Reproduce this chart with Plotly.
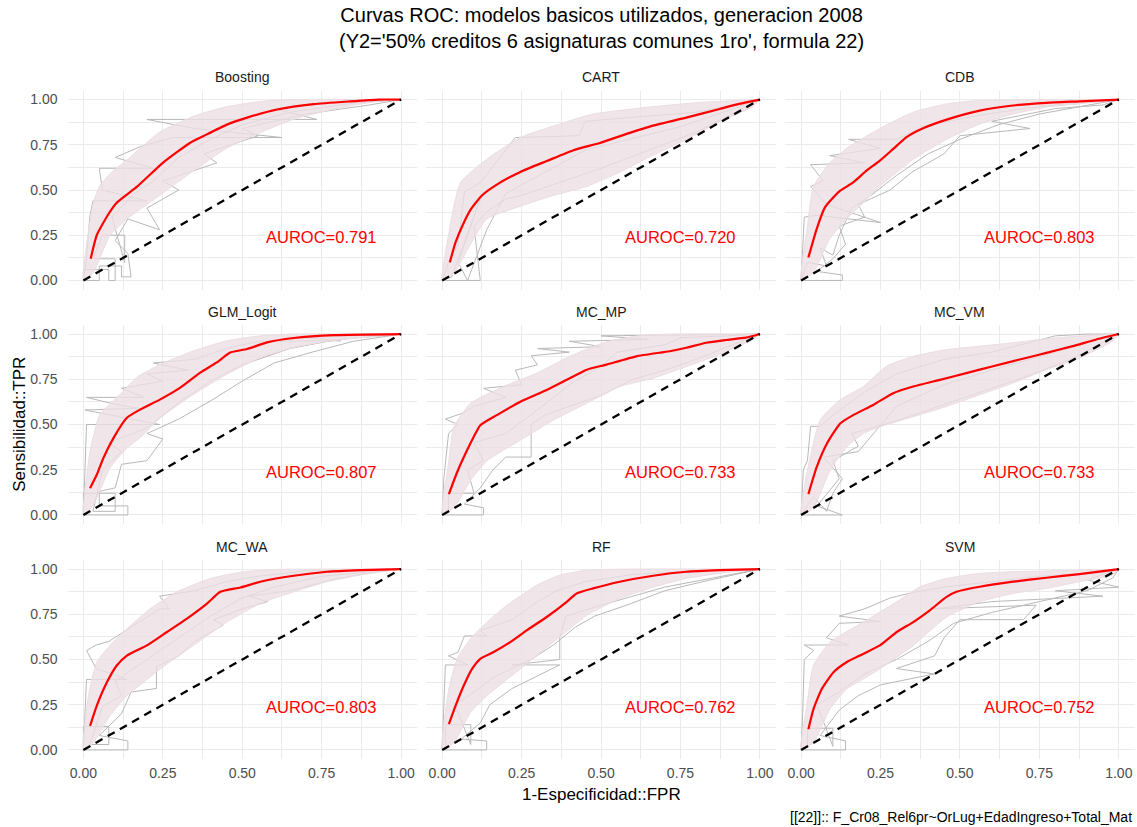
import plotly.graph_objects as go

# ---------------------------------------------------------------------------
# Data: one panel per classifier. Each panel holds a set of per-fold ROC paths
# (grey), the envelope of the smoothed per-fold curves (pink band), the mean
# ROC curve (red) and the AUROC of the mean curve.
# ---------------------------------------------------------------------------
MODELS = ["Boosting", "CART", "CDB", "GLM_Logit", "MC_MP", "MC_VM", "MC_WA", "RF", "SVM"]
AUROC = [0.791, 0.720, 0.803, 0.807, 0.733, 0.733, 0.803, 0.762, 0.752]

DIAG_FPR = [0.0, 1.0]
DIAG_TPR = [0.0, 1.0]

TICKS = [0.00, 0.25, 0.50, 0.75, 1.00]

# ---- Boosting -------------------------------------------------------------
BOOSTING_MEAN = [(0.023, 0.12), (0.042, 0.25), (0.08, 0.37), (0.105, 0.43), (0.17, 0.52),
                 (0.25, 0.65), (0.335, 0.76), (0.38, 0.80), (0.45, 0.86), (0.515, 0.90),
                 (0.61, 0.945), (0.725, 0.975), (0.84, 0.99), (0.93, 1.0), (1.0, 1.0)]
BOOSTING_HI = [(0, 0), (0.01, 0.2), (0.03, 0.42), (0.05, 0.52), (0.09, 0.6), (0.14, 0.67),
               (0.24, 0.82), (0.35, 0.91), (0.45, 0.96), (0.56, 0.99), (0.66, 1.0), (1, 1)]
BOOSTING_LO = [(0, 0), (0.03, 0.04), (0.084, 0.25), (0.137, 0.34), (0.24, 0.47), (0.35, 0.61),
               (0.45, 0.73), (0.56, 0.82), (0.66, 0.89), (0.77, 0.94), (0.87, 0.975),
               (0.95, 0.995), (1, 1)]
BOOSTING_FOLDS = [
    [(0, 0), (0.01, 0.12), (0.02, 0.35), (0.03, 0.44), (0.2, 0.44), (0.06, 0.5), (0.05, 0.62),
     (0.22, 0.62), (0.1, 0.68), (0.18, 0.74), (0.28, 0.79), (0.625, 0.79), (0.35, 0.84),
     (0.2, 0.89), (0.735, 0.89), (0.6, 0.95), (0.8, 0.99), (1, 1)],
    [(0, 0), (0.05, 0.0), (0.05, 0.08), (0.12, 0.08), (0.12, 0.02), (0.15, 0.02), (0.14, 0.15),
     (0.1, 0.22), (0.14, 0.34), (0.24, 0.28), (0.2, 0.4), (0.3, 0.5), (0.25, 0.55), (0.42, 0.65),
     (0.38, 0.7), (0.55, 0.8), (0.5, 0.84), (0.7, 0.92), (0.9, 0.97), (1, 1)],
    [(0, 0), (0, 0.06), (0.08, 0.06), (0.08, 0), (0.1, 0), (0.1, 0.12), (0.03, 0.12), (0.06, 0.25),
     (0.13, 0.25), (0.13, 0.1), (0.09, 0.35), (0.16, 0.48), (0.22, 0.55), (0.3, 0.68), (0.4, 0.78),
     (0.5, 0.86), (0.65, 0.93), (0.85, 0.98), (1, 1)],
]

# ---- CART -----------------------------------------------------------------
CART_MEAN = [(0.024, 0.10), (0.042, 0.21), (0.063, 0.30), (0.089, 0.39), (0.125, 0.47),
             (0.172, 0.53), (0.246, 0.60), (0.329, 0.66), (0.413, 0.72), (0.496, 0.76),
             (0.58, 0.81), (0.663, 0.856), (0.768, 0.90), (0.873, 0.948), (0.935, 0.976), (1, 1)]
CART_HI = [(0, 0), (0.02, 0.25), (0.057, 0.54), (0.14, 0.67), (0.245, 0.79), (0.37, 0.865),
           (0.475, 0.92), (0.66, 0.96), (0.82, 0.985), (1, 1)]
CART_LO = [(0, 0), (0.037, 0.04), (0.089, 0.2), (0.14, 0.34), (0.245, 0.41), (0.35, 0.47),
           (0.455, 0.52), (0.56, 0.6), (0.66, 0.69), (0.77, 0.78), (0.87, 0.875), (0.977, 0.96), (1, 1)]
CART_FOLDS = [
    [(0, 0), (0.02, 0.1), (0.05, 0.2), (0.07, 0.49), (0.12, 0.54), (0.23, 0.79), (0.43, 0.8),
     (0.45, 0.88), (0.8, 0.93), (0.95, 0.98), (1, 1)],
    [(0, 0), (0.12, 0.0), (0.1, 0.3), (0.14, 0.38), (0.2, 0.45), (0.25, 0.47), (0.5, 0.62),
     (0.8, 0.82), (1, 1)],
    [(0, 0), (0.03, 0.02), (0.12, 0.45), (0.05, 0.1), (0.08, 0.0), (0.14, 0.28), (0.2, 0.48),
     (0.45, 0.72), (0.75, 0.85), (1, 1)],
]

# ---- CDB ------------------------------------------------------------------
CDB_MEAN = [(0.023, 0.127), (0.049, 0.284), (0.075, 0.404), (0.102, 0.46), (0.123, 0.496),
            (0.164, 0.542), (0.206, 0.607), (0.248, 0.662), (0.29, 0.727), (0.332, 0.792),
            (0.384, 0.841), (0.458, 0.889), (0.562, 0.939), (0.667, 0.967), (0.772, 0.982),
            (0.876, 0.99), (1, 1)]
CDB_HI = [(0, 0), (0.02, 0.3), (0.039, 0.52), (0.09, 0.65), (0.143, 0.73), (0.248, 0.84),
          (0.353, 0.93), (0.458, 0.976), (0.562, 0.995), (1, 1)]
CDB_LO = [(0, 0), (0.039, 0.044), (0.09, 0.23), (0.143, 0.34), (0.196, 0.43), (0.248, 0.52),
          (0.353, 0.67), (0.458, 0.78), (0.562, 0.865), (0.667, 0.92), (0.772, 0.958),
          (0.876, 0.976), (1, 1)]
CDB_FOLDS = [
    [(0, 0), (0.005, 0.2), (0.01, 0.35), (0.05, 0.36), (0.25, 0.32), (0.08, 0.42), (0.03, 0.52),
     (0.07, 0.55), (0.03, 0.64), (0.2, 0.65), (0.09, 0.69), (0.25, 0.73), (0.15, 0.78), (0.3, 0.78),
     (0.38, 0.85), (0.55, 0.91), (0.7, 0.95), (0.85, 0.98), (1, 1)],
    [(0, 0), (0.13, 0.0), (0.13, 0.03), (0.05, 0.05), (0.1, 0.12), (0.14, 0.2), (0.12, 0.3),
     (0.2, 0.35), (0.18, 0.42), (0.28, 0.5), (0.35, 0.6), (0.45, 0.7), (0.5, 0.8), (0.72, 0.84),
     (0.6, 0.88), (0.8, 0.95), (0.95, 0.97), (1, 1)],
    [(0, 0), (0.02, 0.1), (0.08, 0.08), (0.06, 0.18), (0.1, 0.14), (0.12, 0.25), (0.16, 0.4),
     (0.22, 0.47), (0.3, 0.58), (0.4, 0.7), (0.5, 0.78), (0.62, 0.86), (0.75, 0.92), (0.9, 0.97), (1, 1)],
]

# ---- GLM_Logit ------------------------------------------------------------
GLM_MEAN = [(0.021, 0.148), (0.042, 0.222), (0.063, 0.315), (0.095, 0.426), (0.137, 0.537),
            (0.179, 0.583), (0.242, 0.639), (0.305, 0.704), (0.368, 0.787), (0.42, 0.843),
            (0.462, 0.898), (0.515, 0.917), (0.578, 0.954), (0.662, 0.978), (0.788, 0.994), (1, 1)]
GLM_HI = [(0, 0), (0.021, 0.35), (0.052, 0.556), (0.105, 0.648), (0.168, 0.76), (0.242, 0.833),
          (0.347, 0.907), (0.452, 0.963), (0.557, 0.99), (0.662, 1.0), (1, 1)]
GLM_LO = [(0, 0), (0.031, 0.055), (0.084, 0.26), (0.137, 0.37), (0.19, 0.444), (0.242, 0.537),
          (0.347, 0.667), (0.452, 0.778), (0.557, 0.87), (0.662, 0.926), (0.767, 0.96),
          (0.872, 0.98), (1, 1)]
GLM_FOLDS = [
    [(0, 0), (0.005, 0.25), (0.01, 0.5), (0.24, 0.5), (0.1, 0.55), (0.005, 0.58), (0.17, 0.59),
     (0.08, 0.62), (0.01, 0.65), (0.19, 0.65), (0.12, 0.7), (0.25, 0.74), (0.2, 0.78), (0.33, 0.8),
     (0.22, 0.84), (0.35, 0.86), (0.45, 0.92), (0.55, 0.96), (0.81, 0.963), (0.7, 0.98), (1, 1)],
    [(0, 0), (0.14, 0.0), (0.14, 0.05), (0.05, 0.05), (0.05, 0.13), (0.1, 0.15), (0.12, 0.28),
     (0.2, 0.3), (0.25, 0.42), (0.2, 0.45), (0.3, 0.53), (0.4, 0.63), (0.5, 0.74), (0.6, 0.84),
     (0.72, 0.9), (0.85, 0.96), (1, 1)],
    [(0, 0), (0, 0.12), (0.1, 0.12), (0.1, 0.02), (0.03, 0.02), (0.06, 0.25), (0.12, 0.35),
     (0.08, 0.4), (0.2, 0.48), (0.3, 0.62), (0.4, 0.74), (0.5, 0.83), (0.65, 0.92), (0.8, 0.97), (1, 1)],
]

# ---- MC_MP ----------------------------------------------------------------
MCMP_MEAN = [(0.021, 0.115), (0.047, 0.236), (0.073, 0.338), (0.099, 0.431), (0.12, 0.496),
             (0.172, 0.552), (0.246, 0.626), (0.329, 0.691), (0.392, 0.747), (0.455, 0.803),
             (0.517, 0.831), (0.611, 0.877), (0.716, 0.905), (0.768, 0.924), (0.831, 0.952),
             (0.893, 0.967), (0.956, 0.98), (1, 1)]
MCMP_HI = [(0, 0), (0.021, 0.3), (0.037, 0.487), (0.089, 0.617), (0.193, 0.71), (0.298, 0.784),
           (0.402, 0.877), (0.507, 0.952), (0.611, 0.989), (0.716, 1.0), (1, 1)]
MCMP_LO = [(0, 0), (0.037, 0.04), (0.089, 0.19), (0.141, 0.3), (0.246, 0.413), (0.35, 0.524),
           (0.455, 0.617), (0.559, 0.71), (0.664, 0.756), (0.768, 0.82), (0.873, 0.887),
           (0.977, 0.97), (1, 1)]
MCMP_FOLDS = [
    [(0, 0), (0.005, 0.2), (0.02, 0.45), (0.05, 0.5), (0.01, 0.53), (0.06, 0.56), (0.1, 0.6),
     (0.2, 0.65), (0.13, 0.7), (0.25, 0.72), (0.23, 0.8), (0.3, 0.83), (0.28, 0.88), (0.4, 0.9),
     (0.3, 0.92), (0.5, 0.93), (0.4, 0.96), (0.65, 0.97), (0.5, 0.99), (0.85, 0.995), (1, 1)],
    [(0, 0), (0.13, 0.0), (0.13, 0.04), (0.07, 0.06), (0.12, 0.15), (0.16, 0.25), (0.2, 0.32),
     (0.28, 0.32), (0.28, 0.5), (0.32, 0.55), (0.4, 0.6), (0.5, 0.66), (0.6, 0.75), (0.7, 0.8),
     (0.8, 0.86), (0.9, 0.93), (1, 1)],
    [(0, 0), (0.02, 0.02), (0.02, 0.12), (0.1, 0.12), (0.08, 0.25), (0.13, 0.3), (0.1, 0.4),
     (0.2, 0.45), (0.3, 0.58), (0.4, 0.72), (0.5, 0.82), (0.55, 0.9), (0.7, 0.94), (0.75, 0.98),
     (0.9, 0.99), (1, 1)],
]

# ---- MC_VM ----------------------------------------------------------------
MCVM_MEAN = [(0.023, 0.115), (0.049, 0.264), (0.081, 0.394), (0.123, 0.506), (0.164, 0.552),
             (0.227, 0.608), (0.29, 0.673), (0.353, 0.71), (0.437, 0.747), (0.52, 0.784),
             (0.604, 0.822), (0.688, 0.859), (0.772, 0.896), (0.855, 0.933), (0.929, 0.97), (1, 1)]
MCVM_HI = [(0, 0), (0.018, 0.23), (0.06, 0.524), (0.123, 0.636), (0.196, 0.71), (0.269, 0.822),
           (0.353, 0.877), (0.458, 0.914), (0.562, 0.933), (0.667, 0.952), (0.772, 0.974),
           (0.876, 0.989), (1, 1)]
MCVM_LO = [(0, 0), (0.039, 0.04), (0.091, 0.245), (0.143, 0.375), (0.196, 0.45), (0.248, 0.487),
           (0.353, 0.543), (0.458, 0.6), (0.562, 0.664), (0.667, 0.729), (0.772, 0.803),
           (0.876, 0.868), (0.98, 0.96), (1, 1)]
MCVM_FOLDS = [
    [(0, 0), (0.007, 0.25), (0.02, 0.3), (0.03, 0.49), (0.06, 0.49), (0.1, 0.55), (0.2, 0.68),
     (0.3, 0.78), (0.45, 0.86), (0.6, 0.9), (0.8, 0.99), (0.9, 1.0), (1, 1)],
    [(0, 0), (0.13, 0.0), (0.05, 0.05), (0.12, 0.2), (0.1, 0.3), (0.18, 0.38), (0.16, 0.45),
     (0.3, 0.52), (0.5, 0.64), (0.7, 0.76), (0.85, 0.86), (1, 1)],
    [(0, 0), (0.04, 0.1), (0.08, 0.02), (0.1, 0.12), (0.13, 0.2), (0.07, 0.32), (0.18, 0.35),
     (0.3, 0.6), (0.45, 0.72), (0.6, 0.8), (0.8, 0.9), (1, 1)],
]

# ---- MC_WA ----------------------------------------------------------------
MCWA_MEAN = [(0.021, 0.133), (0.042, 0.244), (0.074, 0.374), (0.105, 0.467), (0.137, 0.522),
             (0.2, 0.578), (0.263, 0.652), (0.326, 0.726), (0.389, 0.809), (0.431, 0.874),
             (0.494, 0.898), (0.557, 0.93), (0.662, 0.963), (0.767, 0.985), (0.872, 0.994), (1, 1)]
MCWA_HI = [(0, 0), (0.016, 0.3), (0.042, 0.485), (0.084, 0.578), (0.137, 0.67), (0.21, 0.78),
           (0.294, 0.874), (0.4, 0.948), (0.504, 0.985), (0.61, 0.998), (1, 1)]
MCWA_LO = [(0, 0), (0.031, 0.04), (0.084, 0.19), (0.137, 0.3), (0.189, 0.374), (0.242, 0.448),
           (0.347, 0.578), (0.452, 0.707), (0.557, 0.81), (0.662, 0.874), (0.767, 0.93),
           (0.872, 0.967), (1, 1)]
MCWA_FOLDS = [
    [(0, 0), (0.005, 0.2), (0.01, 0.39), (0.137, 0.39), (0.04, 0.45), (0.01, 0.55), (0.04, 0.58),
     (0.08, 0.6), (0.17, 0.7), (0.24, 0.78), (0.27, 0.78), (0.24, 0.85), (0.35, 0.88), (0.45, 0.93),
     (0.55, 0.96), (0.7, 0.99), (1, 1)],
    [(0, 0), (0.14, 0.0), (0.14, 0.05), (0.05, 0.08), (0.12, 0.2), (0.15, 0.32), (0.23, 0.34),
     (0.23, 0.46), (0.3, 0.52), (0.35, 0.6), (0.44, 0.69), (0.41, 0.72), (0.5, 0.78), (0.58, 0.82),
     (0.52, 0.85), (0.65, 0.88), (0.78, 0.94), (0.9, 0.98), (1, 1)],
    [(0, 0), (0, 0.13), (0.08, 0.13), (0.08, 0.03), (0.02, 0.03), (0.06, 0.24), (0.12, 0.3),
     (0.1, 0.38), (0.2, 0.5), (0.3, 0.62), (0.4, 0.74), (0.5, 0.84), (0.6, 0.9), (0.75, 0.96), (1, 1)],
]

# ---- RF -------------------------------------------------------------------
RF_MEAN = [(0.021, 0.143), (0.042, 0.244), (0.068, 0.356), (0.094, 0.448), (0.12, 0.504),
           (0.162, 0.541), (0.214, 0.596), (0.266, 0.661), (0.329, 0.735), (0.392, 0.819),
           (0.423, 0.865), (0.475, 0.893), (0.559, 0.93), (0.664, 0.963), (0.768, 0.985),
           (0.873, 0.994), (1, 1)]
RF_HI = [(0, 0), (0.021, 0.337), (0.047, 0.504), (0.089, 0.615), (0.141, 0.707), (0.204, 0.8),
         (0.298, 0.911), (0.371, 0.967), (0.455, 0.994), (0.6, 1.0), (1, 1)]
RF_LO = [(0, 0), (0.037, 0.04), (0.089, 0.207), (0.141, 0.3), (0.246, 0.448), (0.35, 0.596),
         (0.455, 0.744), (0.559, 0.837), (0.664, 0.9), (0.768, 0.948), (0.873, 0.976), (1, 1)]
RF_FOLDS = [
    [(0, 0), (0.005, 0.2), (0.01, 0.47), (0.08, 0.47), (0.02, 0.52), (0.05, 0.54), (0.07, 0.63),
     (0.14, 0.63), (0.12, 0.66), (0.22, 0.72), (0.3, 0.82), (0.36, 0.88), (0.45, 0.93), (0.6, 0.97),
     (0.8, 0.99), (1, 1)],
    [(0, 0), (0.14, 0.0), (0.14, 0.05), (0.06, 0.06), (0.12, 0.15), (0.15, 0.25), (0.22, 0.34),
     (0.37, 0.47), (0.22, 0.47), (0.37, 0.5), (0.37, 0.62), (0.39, 0.74), (0.5, 0.8), (0.6, 0.85),
     (0.7, 0.9), (0.85, 0.95), (1, 1)],
    [(0, 0), (0.01, 0.02), (0.01, 0.14), (0.09, 0.14), (0.09, 0.03), (0.04, 0.25), (0.1, 0.32),
     (0.16, 0.4), (0.28, 0.5), (0.35, 0.58), (0.42, 0.68), (0.48, 0.74), (0.58, 0.8), (0.7, 0.88),
     (0.82, 0.93), (1, 1)],
]

# ---- SVM ------------------------------------------------------------------
SVM_MEAN = [(0.023, 0.115), (0.039, 0.226), (0.065, 0.337), (0.102, 0.43), (0.143, 0.485),
            (0.185, 0.522), (0.248, 0.578), (0.301, 0.652), (0.353, 0.707), (0.405, 0.772),
            (0.458, 0.846), (0.489, 0.874), (0.562, 0.902), (0.667, 0.93), (0.772, 0.952),
            (0.876, 0.972), (1, 1)]
SVM_HI = [(0, 0), (0.018, 0.244), (0.039, 0.467), (0.091, 0.596), (0.196, 0.707), (0.301, 0.819),
          (0.374, 0.902), (0.458, 0.948), (0.562, 0.976), (0.667, 0.985), (0.876, 0.994), (1, 1)]
SVM_LO = [(0, 0), (0.039, 0.04), (0.091, 0.226), (0.143, 0.337), (0.196, 0.393), (0.248, 0.448),
          (0.353, 0.578), (0.458, 0.735), (0.562, 0.819), (0.667, 0.865), (0.772, 0.893),
          (0.876, 0.93), (0.98, 0.967), (1, 1)]
SVM_FOLDS = [
    [(0, 0), (0.005, 0.2), (0.01, 0.5), (0.04, 0.55), (0.01, 0.58), (0.15, 0.58), (0.08, 0.62),
     (0.12, 0.7), (0.25, 0.71), (0.12, 0.74), (0.2, 0.78), (0.28, 0.84), (0.35, 0.87), (0.45, 0.9),
     (0.6, 0.93), (0.75, 0.96), (0.95, 0.98), (1, 1)],
    [(0, 0), (0.14, 0.0), (0.14, 0.05), (0.06, 0.08), (0.12, 0.22), (0.18, 0.3), (0.25, 0.36),
     (0.42, 0.42), (0.3, 0.45), (0.42, 0.52), (0.45, 0.62), (0.5, 0.72), (0.7, 0.72), (0.74, 0.8),
     (0.42, 0.78), (0.6, 0.82), (0.95, 0.85), (0.8, 0.88), (1.0, 0.9), (0.9, 0.94), (1, 1)],
    [(0, 0), (0.02, 0.02), (0.02, 0.12), (0.1, 0.12), (0.1, 0.02), (0.05, 0.25), (0.12, 0.32),
     (0.2, 0.42), (0.3, 0.5), (0.4, 0.6), (0.48, 0.7), (0.6, 0.76), (0.75, 0.82), (0.9, 0.88),
     (0.98, 0.95), (1, 1)],
]

PANELS = {
    "Boosting": (BOOSTING_MEAN, BOOSTING_HI, BOOSTING_LO, BOOSTING_FOLDS),
    "CART": (CART_MEAN, CART_HI, CART_LO, CART_FOLDS),
    "CDB": (CDB_MEAN, CDB_HI, CDB_LO, CDB_FOLDS),
    "GLM_Logit": (GLM_MEAN, GLM_HI, GLM_LO, GLM_FOLDS),
    "MC_MP": (MCMP_MEAN, MCMP_HI, MCMP_LO, MCMP_FOLDS),
    "MC_VM": (MCVM_MEAN, MCVM_HI, MCVM_LO, MCVM_FOLDS),
    "MC_WA": (MCWA_MEAN, MCWA_HI, MCWA_LO, MCWA_FOLDS),
    "RF": (RF_MEAN, RF_HI, RF_LO, RF_FOLDS),
    "SVM": (SVM_MEAN, SVM_HI, SVM_LO, SVM_FOLDS),
}

# ---------------------------------------------------------------------------
# Layout geometry (pixels) and styling
# ---------------------------------------------------------------------------
W, H = 1137, 827
COL_LEFT = [67.5, 426.3, 785.2]
PANEL_W = 349.5
ROW_TOP = [90.5, 325.0, 560.0]
PANEL_H = 199.0

FONT = "Liberation Sans, Arial, sans-serif"
GRID = "#EBEBEB"
FOLD_GREY = "#B8B8B8"
BAND_PINK = "rgba(236,222,227,0.8)"
BAND_EDGE = "#EBDDE2"


def xs(path):
    return [p[0] for p in path]


def ys(path):
    return [p[1] for p in path]


fig = go.Figure()
annotations = []
layout_axes = {}

for i, name in enumerate(MODELS):
    r, c = divmod(i, 3)
    suffix = "" if i == 0 else str(i + 1)
    xa, ya = "x" + suffix, "y" + suffix
    mean, hi, lo, folds = PANELS[name]

    # per-fold ROC paths
    for path in folds:
        fig.add_trace(go.Scatter(
            x=xs(path), y=ys(path), xaxis=xa, yaxis=ya, mode="lines",
            line=dict(color=FOLD_GREY, width=1.0), hoverinfo="skip", showlegend=False))

    # envelope of smoothed per-fold curves
    band = hi + lo[::-1]
    fig.add_trace(go.Scatter(
        x=xs(band), y=ys(band), xaxis=xa, yaxis=ya, mode="lines", fill="toself",
        fillcolor=BAND_PINK, line=dict(color=BAND_EDGE, width=1, shape="spline", smoothing=0.5),
        hoverinfo="skip", showlegend=False))

    # mean ROC curve
    fig.add_trace(go.Scatter(
        x=xs(mean), y=ys(mean), xaxis=xa, yaxis=ya, mode="lines",
        line=dict(color="#FF0000", width=2.2, shape="spline", smoothing=0.5),
        hoverinfo="skip", showlegend=False))

    # chance diagonal
    fig.add_trace(go.Scatter(
        x=DIAG_FPR, y=DIAG_TPR, xaxis=xa, yaxis=ya, mode="lines",
        line=dict(color="#000000", width=2.3, dash="8px,6px"),
        hoverinfo="skip", showlegend=False))

    x0 = COL_LEFT[c] / W
    x1 = (COL_LEFT[c] + PANEL_W) / W
    y1 = 1 - ROW_TOP[r] / H
    y0 = 1 - (ROW_TOP[r] + PANEL_H) / H

    common = dict(
        range=[-0.05, 1.05], tickmode="array", tickvals=TICKS,
        ticktext=["%.2f" % t for t in TICKS],
        showgrid=True, gridcolor=GRID, gridwidth=1.1, zeroline=False, showline=False,
        ticks="", tickfont=dict(family=FONT, size=14, color="#4D4D4D"),
        minor=dict(tickvals=[0.125, 0.375, 0.625, 0.875], showgrid=True,
                   gridcolor=GRID, gridwidth=0.6),
        fixedrange=True,
    )
    layout_axes["xaxis" + suffix] = dict(
        common, domain=[x0, x1], anchor=ya, showticklabels=(r == 2), ticklabelstandoff=4)
    layout_axes["yaxis" + suffix] = dict(
        common, domain=[y0, y1], anchor=xa, showticklabels=(c == 0), ticklabelstandoff=9)

    # facet strip label
    annotations.append(dict(
        text=name, xref="paper", yref="paper", x=(x0 + x1) / 2, y=1 - (ROW_TOP[r] - 13.5) / H,
        xanchor="center", yanchor="middle", showarrow=False,
        font=dict(family=FONT, size=14, color="#1A1A1A")))

    # AUROC label
    annotations.append(dict(
        text="AUROC=%.3f" % AUROC[i], xref=xa, yref=ya, x=0.75, y=0.24,
        xanchor="center", yanchor="middle", showarrow=False,
        font=dict(family=FONT, size=16.5, color="#FF0000")))

panel_mid_x = (COL_LEFT[0] + COL_LEFT[2] + PANEL_W) / 2 / W

annotations += [
    dict(text="Curvas ROC: modelos basicos utilizados, generacion 2008<br>"
              "(Y2='50% creditos 6 asignaturas comunes 1ro', formula 22)",
         xref="paper", yref="paper", x=panel_mid_x, y=1 - 2 / H, xanchor="center", yanchor="top",
         showarrow=False, align="center", font=dict(family=FONT, size=20, color="#000000")),
    dict(text="1-Especificidad::FPR", xref="paper", yref="paper", x=panel_mid_x, y=1 - 794 / H,
         xanchor="center", yanchor="middle", showarrow=False,
         font=dict(family=FONT, size=17, color="#000000")),
    dict(text="Sensibilidad::TPR", xref="paper", yref="paper", x=20 / W,
         y=1 - (ROW_TOP[0] + ROW_TOP[2] + PANEL_H) / 2 / H,
         xanchor="center", yanchor="middle", textangle=-90, showarrow=False,
         font=dict(family=FONT, size=17, color="#000000")),
    dict(text="[[22]]:: F_Cr08_Rel6pr~OrLug+EdadIngreso+Total_Mat", xref="paper", yref="paper",
         x=1134 / W, y=1 - 817 / H, xanchor="right", yanchor="middle", showarrow=False,
         font=dict(family=FONT, size=14, color="#000000")),
]

fig.update_layout(
    width=W, height=H, autosize=False,
    margin=dict(l=0, r=0, t=0, b=0),
    paper_bgcolor="#FFFFFF", plot_bgcolor="#FFFFFF",
    showlegend=False, annotations=annotations,
    **layout_axes,
)

fig.write_html("out.html")
